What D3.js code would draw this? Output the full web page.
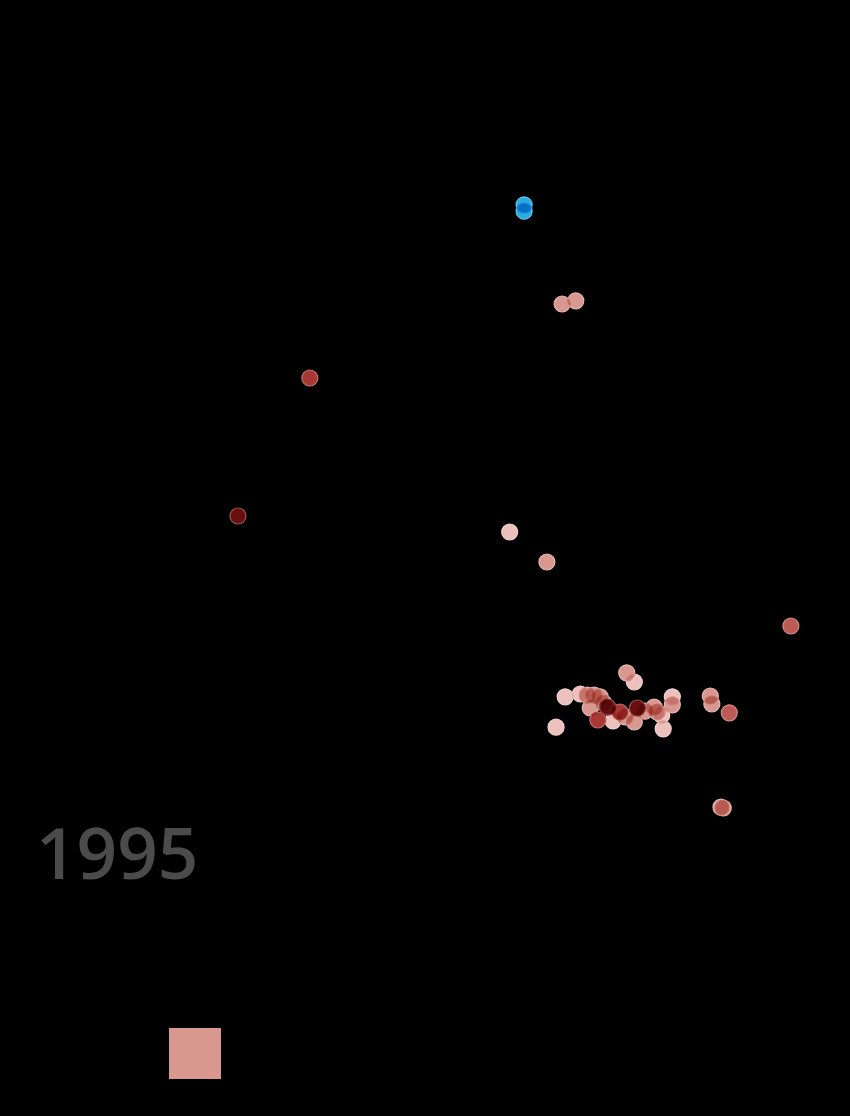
<!DOCTYPE html>
<html>
<head>
<meta charset="utf-8">
<script src="https://cdn.jsdelivr.net/npm/d3@7"></script>
<style>
  html, body { margin: 0; padding: 0; background: #000; }
  svg { display: block; background: #000; }
</style>
</head>
<body>
<svg id="chart" width="850" height="1116"></svg>
<script>
// ---- data ----
const year = "1995";
const xValues = [63.7, 63.7, 68.7, 70.5, 35.5, 26.05, 61.8, 66.7, 98.8, 77.2, 78.2, 69.1, 71.1, 72.0, 72.9, 73.7, 72.4, 74.7, 76.3, 78.6, 73.4, 75.4, 78.2, 80.8, 81.2, 81.8, 83.2, 83.2, 88.2, 88.4, 90.7, 67.9, 82.0, 89.6, 89.9, 74.2, 77.0, 79.6];
const yValues = [86.9, 86.1, 74.5, 74.9, 65.25, 48.0, 46.0, 42.25, 34.25, 28.4, 27.25, 25.4, 25.75, 25.6, 25.6, 25.4, 24.0, 24.1, 23.5, 24.0, 22.5, 22.4, 22.25, 24.1, 23.5, 23.1, 25.4, 24.4, 25.5, 24.5, 23.4, 21.6, 21.4, 11.6, 11.5, 24.6, 22.9, 23.6];
// color level per point: -1 = highlighted (blue), 0..4 = light to dark
const levels = [-1, -1, 1, 1, 3, 4, 0, 1, 2, 1, 0, 0, 0, 1, 1, 1, 1, 4, 3, 4, 3, 0, 1, 1, 1, 0, 0, 1, 1, 1, 2, 0, 0, 1, 1, 1, 1, 1];
const levelColors = ["#ecc0bd", "#d8988f", "#bc5a55", "#a83834", "#6a0f0f"];
const highlightColor = "#2aaae2";
const legendLevels = [1];

// ---- chart ----
const W = 850, H = 1116;
const svg = d3.select("#chart");
const x = d3.scaleLinear().domain([0, 100]).range([40, 800]);
const y = d3.scaleLinear().domain([0, 100]).range([900, 100]);
const color = l => l < 0 ? highlightColor : levelColors[l];

const pts = xValues.map((v, i) => ({ x: v, y: yValues[i], l: levels[i] }));

const g = svg.append("g").style("isolation", "isolate");
g.selectAll("circle")
  .data(pts)
  .join("circle")
  .attr("cx", d => x(d.x))
  .attr("cy", d => y(d.y))
  .attr("r", 8)
  .attr("fill", d => color(d.l))
  .attr("stroke", d => d3.interpolateRgb(color(d.l), "#fff")(0.3))
  .attr("stroke-width", 1.2)
  .style("mix-blend-mode", "multiply");

svg.append("text")
  .attr("x", 36)
  .attr("y", 879)
  .attr("fill", "#4b4b4b")
  .style("font-family", "'Open Sans', 'Noto Sans', sans-serif")
  .style("font-weight", 600)
  .style("font-size", "71px")
  .text(year);

svg.selectAll("rect.legend")
  .data(legendLevels)
  .join("rect")
  .attr("class", "legend")
  .attr("x", 169)
  .attr("y", 1028)
  .attr("width", 52)
  .attr("height", 51)
  .attr("fill", d => levelColors[d]);
</script>
</body>
</html>
